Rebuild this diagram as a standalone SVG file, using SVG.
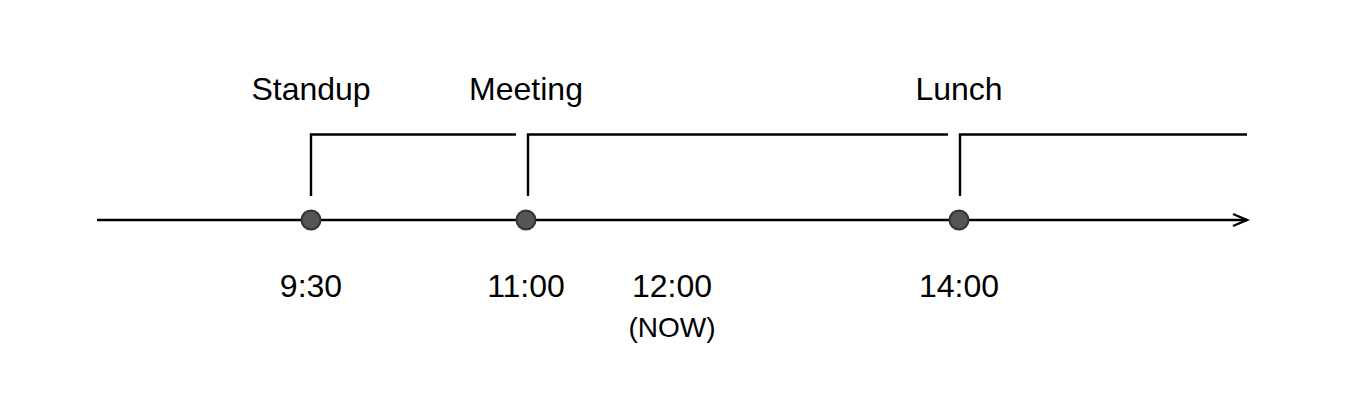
<svg xmlns="http://www.w3.org/2000/svg" width="1360" height="400" viewBox="0 0 1360 400">
<style>
.t{font-family:"Liberation Sans",Arial,sans-serif;font-size:32px;fill:#000;text-anchor:middle}
.s{font-size:28px}
.ln{fill:none;stroke:#000;stroke-width:2.4}
.dot{fill:#555;stroke:#333;stroke-width:2}
</style>
<defs>
<marker id="arr" markerWidth="20" markerHeight="16" refX="16" refY="8" orient="auto" markerUnits="userSpaceOnUse">
<path d="M2,2 L16,8 L2,14" fill="none" stroke="#000" stroke-width="2.4"/>
</marker>
</defs>
<rect width="1360" height="400" fill="#fff"/>
<g id="connectors">
<line class="ln" x1="97" y1="220" x2="1247" y2="220" marker-end="url(#arr)"/>
<path class="ln" d="M311,196 V134.5 H516"/>
<path class="ln" d="M528,196 V134.5 H948"/>
<path class="ln" d="M960,196 V134.5 H1247"/>
</g>
<g id="standup">
<circle class="dot" cx="311" cy="220" r="9.5"/>
<text class="t" x="311" y="100">Standup</text>
<text class="t" x="311" y="297">9:30</text>
</g>
<g id="meeting">
<circle class="dot" cx="526" cy="220" r="9.5"/>
<text class="t" x="526" y="100">Meeting</text>
<text class="t" x="526" y="297">11:00</text>
</g>
<g id="now">
<text class="t" x="672" y="297">12:00</text>
<text class="t s" x="672" y="337">(NOW)</text>
</g>
<g id="lunch">
<circle class="dot" cx="959" cy="220" r="9.5"/>
<text class="t" x="959" y="100">Lunch</text>
<text class="t" x="959" y="297">14:00</text>
</g>
</svg>
